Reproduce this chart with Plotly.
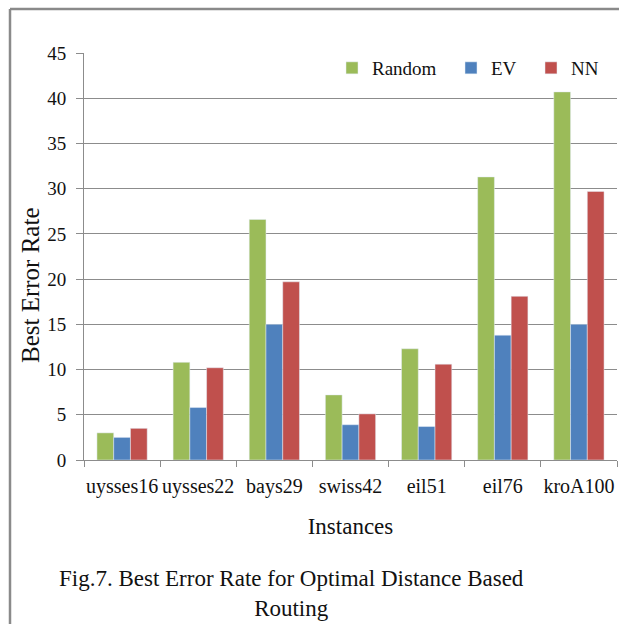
import plotly.graph_objects as go

categories = ["uysses16", "uysses22", "bays29", "swiss42", "eil51", "eil76", "kroA100"]
random_vals = [3.0, 10.8, 26.6, 7.2, 12.3, 31.3, 40.7]
ev_vals = [2.5, 5.8, 15.0, 3.9, 3.7, 13.8, 15.0]
nn_vals = [3.5, 10.2, 19.7, 5.1, 10.6, 18.1, 29.7]
y_ticks = [0, 5, 10, 15, 20, 25, 30, 35, 40, 45]

FONT = "Liberation Serif"
GRID = "#8c8c8c"
TXT = "#111111"

L, R, T, B = 84, 2, 53, 164
W, H = 619, 624
pw = W - L - R
ph = H - T - B

def px_x(p):
    return (p - L) / pw

def px_y(p):
    return (H - B - p) / ph

fig = go.Figure()
fig.add_bar(x=categories, y=random_vals, name="Random", marker_color="#9BBB59", legend="legend")
fig.add_bar(x=categories, y=ev_vals, name="EV", marker_color="#4F81BD", legend="legend2")
fig.add_bar(x=categories, y=nn_vals, name="NN", marker_color="#C0504D", legend="legend3")

def leg(xpx):
    return dict(
        x=px_x(xpx), y=px_y(68), xanchor="left", yanchor="middle",
        font=dict(family=FONT, size=19, color=TXT),
        bgcolor="rgba(0,0,0,0)", itemwidth=30,
    )

fig.update_layout(
    width=W, height=H,
    margin=dict(l=L, r=R, t=T, b=B, pad=0, autoexpand=False),
    paper_bgcolor="white", plot_bgcolor="white",
    barmode="group", bargap=0.34, bargroupgap=0,
    font=dict(family=FONT, size=18, color=TXT),
    showlegend=True,
    legend=leg(332),
    legend2=leg(451),
    legend3=leg(531),
    xaxis=dict(
        type="category", showgrid=False, showline=True, linecolor=GRID, linewidth=1,
        ticks="outside", tickson="boundaries", ticklen=6, tickcolor=GRID,
        tickangle=0, automargin=False,
        tickfont=dict(family=FONT, size=20, color=TXT), ticklabelstandoff=8,
        title=dict(text="Instances", font=dict(family=FONT, size=23, color=TXT), standoff=20),
    ),
    yaxis=dict(
        range=[0, 45], tickvals=y_ticks, showgrid=True, gridcolor=GRID, gridwidth=1,
        showline=True, linecolor=GRID, linewidth=1, zeroline=False,
        ticks="outside", ticklen=7, tickcolor=GRID, automargin=False,
        tickfont=dict(family=FONT, size=19, color=TXT), ticklabelstandoff=6,
    ),
)

# y-axis title (placed slightly below the plot centre, as in the source)
fig.add_annotation(
    text="Best Error Rate", textangle=-90,
    xref="paper", yref="paper", x=px_x(30), y=px_y(285), xanchor="center", yanchor="middle",
    showarrow=False, font=dict(family=FONT, size=25, color=TXT),
)

# outer frame (top and left edges visible)
fig.add_shape(type="line", xref="paper", yref="paper",
              x0=px_x(10), x1=px_x(640), y0=px_y(9), y1=px_y(9),
              line=dict(color="#8a8a8a", width=2.5))
fig.add_shape(type="line", xref="paper", yref="paper",
              x0=px_x(10), x1=px_x(10), y0=px_y(9), y1=px_y(640),
              line=dict(color="#8a8a8a", width=2.5))

fig.add_annotation(
    text="Fig.7. Best Error Rate for Optimal Distance Based<br>Routing",
    xref="paper", yref="paper", x=px_x(291), y=px_y(593), xanchor="center", yanchor="middle",
    showarrow=False, align="center",
    font=dict(family=FONT, size=23, color=TXT),
)

fig.write_html("out.html", config={"displayModeBar": False},
               post_script="document.body.style.margin='0';")
